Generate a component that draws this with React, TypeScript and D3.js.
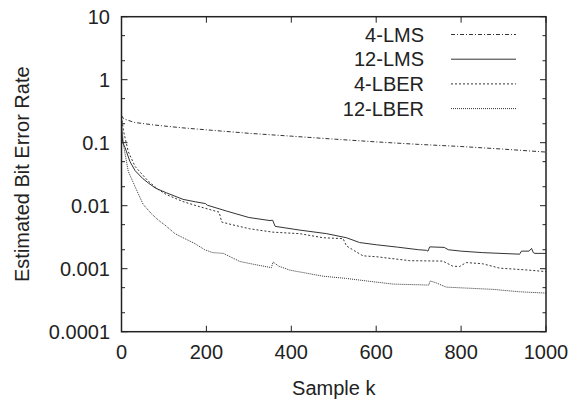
import React from "react";
import * as d3 from "d3";

const xTicks = [0, 200, 400, 600, 800, 1000];
const yTicks = [0.0001, 0.001, 0.01, 0.1, 1, 10];
const yTickLabels = ["0.0001", "0.001", "0.01", "0.1", "1", "10"];

const lms4K = [0, 5, 30, 80, 140, 200, 300, 400, 500, 600, 700, 800, 900, 1000];
const lms4V = [0.27, 0.24, 0.21, 0.19, 0.173, 0.16, 0.141, 0.127, 0.114, 0.103, 0.094, 0.087, 0.079, 0.071];

const lms12K = [0, 3, 8, 20, 32, 50, 63, 80, 106, 145, 175, 198, 202, 248, 300, 350, 356, 362, 420, 483, 530, 561, 600, 650, 700, 718, 722, 726, 760, 770, 800, 850, 938, 942, 960, 966, 970, 974, 1000];
const lms12V = [0.16, 0.1, 0.085, 0.05, 0.036, 0.027, 0.023, 0.019, 0.016, 0.0126, 0.0115, 0.0108, 0.0102, 0.0082, 0.0065, 0.0058, 0.0059, 0.0047, 0.0041, 0.0036, 0.0031, 0.0026, 0.0024, 0.0022, 0.002, 0.00196, 0.0019, 0.00222, 0.00218, 0.002, 0.0019, 0.0018, 0.0017, 0.0019, 0.0019, 0.0021, 0.0018, 0.00175, 0.00175];

const lber4K = [0, 5, 16, 32, 63, 87, 106, 145, 185, 230, 236, 260, 302, 357, 420, 475, 522, 530, 550, 569, 600, 679, 757, 780, 796, 812, 850, 891, 950, 1000];
const lber4V = [0.26, 0.15, 0.072, 0.042, 0.0245, 0.018, 0.015, 0.0116, 0.0096, 0.0079, 0.0055, 0.005, 0.0043, 0.0038, 0.0036, 0.0031, 0.003, 0.0023, 0.0019, 0.0016, 0.00155, 0.00134, 0.00132, 0.0011, 0.00108, 0.00125, 0.0012, 0.00102, 0.00096, 0.0009];

const lber12K = [0, 2, 5, 16, 32, 51, 70, 87, 106, 126, 145, 173, 196, 215, 240, 279, 318, 353, 357, 370, 396, 475, 530, 585, 640, 724, 727, 740, 765, 875, 938, 1000];
const lber12V = [0.26, 0.15, 0.09, 0.035, 0.02, 0.0105, 0.0075, 0.0059, 0.0047, 0.0036, 0.0031, 0.0025, 0.002, 0.0018, 0.00175, 0.0013, 0.00115, 0.00104, 0.00128, 0.0011, 0.00095, 0.00076, 0.0007, 0.00063, 0.00057, 0.00055, 0.00064, 0.0006, 0.00051, 0.00047, 0.00043, 0.00041];

const seriesNames = ["4-LMS", "12-LMS", "4-LBER", "12-LBER"];
const seriesDash = ["4,2,1,2", "", "2,2", "1,1"];

const W = 578;
const H = 401;
const L = 121.5;
const R = 546;
const T = 16.7;
const B = 331.7;
const FONT = "'Liberation Sans', Arial, Helvetica, sans-serif";
const INK = "#222";

export default function App() {
  const x = d3.scaleLinear().domain([0, 1000]).range([L, R]);
  const y = d3.scaleLog().domain([1e-4, 10]).range([B, T]);

  const series = [
    { k: lms4K, v: lms4V },
    { k: lms12K, v: lms12V },
    { k: lber4K, v: lber4V },
    { k: lber12K, v: lber12V },
  ];

  const line = d3
    .line<[number, number]>()
    .x((d) => x(d[0]))
    .y((d) => y(d[1]));

  const minorTicks: number[] = [];
  for (let e = -4; e < 1; e++) {
    [2, 5].forEach((m) => minorTicks.push(m * Math.pow(10, e)));
  }

  const legendY0 = 34.5;
  const legendDy = 24.7;

  return (
    <svg
      width={W}
      height={H}
      style={{ position: "absolute", left: 0, top: 0, background: "#fff" }}
      fontFamily={FONT}
    >
      <defs>
        <clipPath id="plot">
          <rect x={L} y={T} width={R - L} height={B - T} />
        </clipPath>
      </defs>
      <rect x={0} y={0} width={W} height={H} fill="#fff" />
      <g clipPath="url(#plot)">
        {series.map((s, i) => (
          <path
            key={i}
            d={line(s.k.map((k, j) => [k, s.v[j]] as [number, number])) || ""}
            fill="none"
            stroke="#333"
            strokeWidth={1}
            strokeDasharray={seriesDash[i] || undefined}
          />
        ))}
      </g>
      {/* frame */}
      <rect x={L} y={T} width={R - L} height={B - T} fill="none" stroke={INK} strokeWidth={1.5} />
      {/* x ticks */}
      {xTicks.map((t) => (
        <g key={"x" + t}>
          <line x1={x(t)} x2={x(t)} y1={B} y2={B - 6} stroke={INK} strokeWidth={1} />
          <line x1={x(t)} x2={x(t)} y1={T} y2={T + 6} stroke={INK} strokeWidth={1} />
          <text x={x(t)} y={359} fontSize={20} textAnchor="middle" fill={INK}>
            {t}
          </text>
        </g>
      ))}
      {/* y ticks */}
      {yTicks.map((t, i) => (
        <g key={"y" + t}>
          <line x1={L} x2={L + 6} y1={y(t)} y2={y(t)} stroke={INK} strokeWidth={1} />
          <line x1={R} x2={R - 6} y1={y(t)} y2={y(t)} stroke={INK} strokeWidth={1} />
          <text x={110} y={y(t)} dy="0.36em" fontSize={20} textAnchor="end" fill={INK}>
            {yTickLabels[i]}
          </text>
        </g>
      ))}
      {minorTicks.map((t) => (
        <g key={"m" + t}>
          <line x1={L} x2={L + 3.5} y1={y(t)} y2={y(t)} stroke={INK} strokeWidth={1} />
          <line x1={R} x2={R - 3.5} y1={y(t)} y2={y(t)} stroke={INK} strokeWidth={1} />
        </g>
      ))}
      {/* axis titles */}
      <text x={(L + R) / 2} y={395} fontSize={20} textAnchor="middle" fill={INK}>
        Sample k
      </text>
      <text
        transform={`translate(29, ${(T + B) / 2}) rotate(-90)`}
        fontSize={20}
        textAnchor="middle"
        fill={INK}
      >
        Estimated Bit Error Rate
      </text>
      {/* legend */}
      {seriesNames.map((n, i) => {
        const ly = legendY0 + i * legendDy;
        return (
          <g key={"l" + n}>
            <text x={424} y={ly} dy="0.36em" fontSize={20} textAnchor="end" fill={INK}>
              {n}
            </text>
            <line
              x1={451}
              x2={516}
              y1={ly}
              y2={ly}
              stroke="#333"
              strokeWidth={1}
              strokeDasharray={seriesDash[i] || undefined}
            />
          </g>
        );
      })}
    </svg>
  );
}
